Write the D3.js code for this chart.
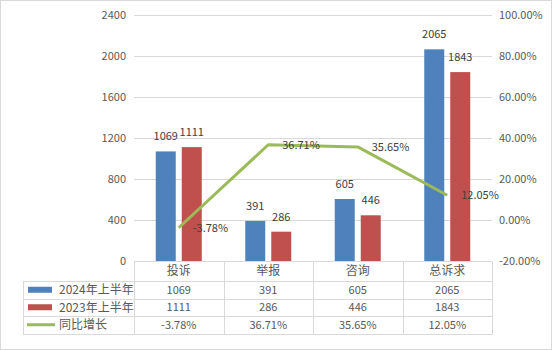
<!DOCTYPE html>
<html>
<head>
<meta charset="utf-8">
<script src="https://cdn.jsdelivr.net/npm/d3@7/dist/d3.min.js"></script>
<style>
  html, body { margin: 0; padding: 0; background: #fff; }
  svg { display: block; font-family: "Noto Sans CJK SC", "Noto Sans", sans-serif; }
</style>
</head>
<body>
<svg id="chart" width="552" height="350"></svg>
<script>
// Complaint statistics, first half of 2024 vs first half of 2023
const categories = ["投诉", "举报", "咨询", "总诉求"];
const seriesNames = ["2024年上半年", "2023年上半年", "同比增长"];
const values2024 = [1069, 391, 605, 2065];
const values2023 = [1111, 286, 446, 1843];
const growthPct = [-3.78, 36.71, 35.65, 12.05];
const growthLabels = ["-3.78%", "36.71%", "35.65%", "12.05%"];
const leftTicks = [0, 400, 800, 1200, 1600, 2000, 2400];
const rightTicks = [-20, 0, 20, 40, 60, 80, 100];

const colors = { blue: "#4F81BD", red: "#C0504D", green: "#9BBB59" };
const grid = "#D9D9D9";
const axisText = "#595959";
const labelText = "#404040";

const svg = d3.select("#chart");

// outer frame
svg.append("rect")
  .attr("x", 0.5).attr("y", 0.5).attr("width", 551).attr("height", 349)
  .attr("fill", "#fff").attr("stroke", grid);

const plot = { left: 134, right: 492, top: 15, bottom: 261 };

const x = d3.scaleBand().domain(categories).range([plot.left, plot.right]).padding(0);
const yL = d3.scaleLinear().domain([0, 2400]).range([plot.bottom, plot.top]);
const yR = d3.scaleLinear().domain([-20, 100]).range([plot.bottom, plot.top]);

// two bars of width 20 with a 6px gap, centred in each category
const barW = 20, barGap = 6;
const step = barW + barGap;
const pIn = barGap / step;
const pOut = (x.bandwidth() / step - 2 + pIn) / 2;
const xs = d3.scaleBand().domain(["a", "b"]).range([0, x.bandwidth()])
  .paddingInner(pIn).paddingOuter(pOut);

// horizontal gridlines
svg.append("g").selectAll("line").data(leftTicks.filter(d => d > 0)).join("line")
  .attr("x1", plot.left).attr("x2", plot.right)
  .attr("y1", d => Math.round(yL(d)) + 0.5).attr("y2", d => Math.round(yL(d)) + 0.5)
  .attr("stroke", grid).attr("stroke-width", 1);

// left axis labels
const axL = svg.append("g").attr("transform", `translate(${plot.left},0)`)
  .call(d3.axisLeft(yL).tickValues(leftTicks).tickSize(0).tickPadding(8).tickFormat(d3.format("d")));
axL.select(".domain").remove();
axL.selectAll("text").attr("fill", axisText).style("font-size", "11px")
  .style("font-family", "\"Noto Sans CJK SC\", sans-serif");

// right axis labels
const axR = svg.append("g").attr("transform", `translate(${plot.right},0)`)
  .call(d3.axisRight(yR).tickValues(rightTicks).tickSize(0).tickPadding(7).tickFormat(d => d.toFixed(2) + "%"));
axR.select(".domain").remove();
axR.selectAll("text").attr("fill", axisText).style("font-size", "11px")
  .style("font-family", "\"Noto Sans CJK SC\", sans-serif");

// bars
const barData = categories.map((c, i) => [
  { c, key: "a", v: values2024[i], color: colors.blue },
  { c, key: "b", v: values2023[i], color: colors.red }
]).flat();

svg.append("g").selectAll("rect").data(barData).join("rect")
  .attr("x", d => x(d.c) + xs(d.key))
  .attr("width", xs.bandwidth())
  .attr("y", d => yL(d.v))
  .attr("height", d => yL(0) - yL(d.v))
  .attr("fill", d => d.color);

svg.append("g").selectAll("text").data(barData).join("text")
  .attr("x", d => x(d.c) + xs(d.key) + xs.bandwidth() / 2)
  .attr("y", d => yL(d.v) - 11)
  .attr("text-anchor", "middle")
  .attr("fill", labelText)
  .style("font-size", "11px")
  .text(d => d.v);

// growth line
const linePts = categories.map((c, i) => ({ c, v: growthPct[i], label: growthLabels[i] }));
const line = d3.line().x(d => x(d.c) + x.bandwidth() / 2).y(d => yR(d.v));
svg.append("path").datum(linePts)
  .attr("d", line)
  .attr("fill", "none")
  .attr("stroke", colors.green)
  .attr("stroke-width", 3)
  .attr("stroke-linejoin", "round");

svg.append("g").selectAll("text").data(linePts).join("text")
  .attr("x", d => x(d.c) + x.bandwidth() / 2 + 14)
  .attr("y", d => yR(d.v))
  .attr("dy", "0.35em")
  .attr("fill", labelText)
  .style("font-size", "11px")
  .text(d => d.label);

// data table below the plot
const tbl = { left: 23, headTop: 261, rows: [281, 298.5, 316, 333.5] };
const tg = svg.append("g").attr("stroke", grid).attr("stroke-width", 1);
const px = v => Math.round(v) + 0.5;

// horizontal rules
tg.append("line").attr("x1", plot.left).attr("x2", plot.right)
  .attr("y1", px(tbl.headTop)).attr("y2", px(tbl.headTop));
tbl.rows.forEach(r => {
  tg.append("line").attr("x1", tbl.left).attr("x2", plot.right)
    .attr("y1", px(r)).attr("y2", px(r));
});
// vertical rules
const colEdges = categories.map(c => x(c)).concat([plot.right]);
colEdges.forEach(cx => {
  tg.append("line").attr("x1", px(cx)).attr("x2", px(cx))
    .attr("y1", px(tbl.headTop)).attr("y2", px(tbl.rows[3]));
});
tg.append("line").attr("x1", px(tbl.left)).attr("x2", px(tbl.left))
  .attr("y1", px(tbl.rows[0])).attr("y2", px(tbl.rows[3]));

// header row
svg.append("g").selectAll("text").data(categories).join("text")
  .attr("x", d => x(d) + x.bandwidth() / 2)
  .attr("y", (tbl.headTop + tbl.rows[0]) / 2)
  .attr("dy", "0.36em")
  .attr("text-anchor", "middle")
  .attr("fill", axisText)
  .style("font-size", "12px")
  .text(d => d);

// body rows
const rowValues = [values2024.map(String), values2023.map(String), growthLabels];
rowValues.forEach((vals, r) => {
  const cy = (tbl.rows[r] + tbl.rows[r + 1]) / 2;
  svg.append("g").selectAll("text").data(vals).join("text")
    .attr("x", (d, i) => x(categories[i]) + x.bandwidth() / 2)
    .attr("y", cy)
    .attr("dy", "0.36em")
    .attr("text-anchor", "middle")
    .attr("fill", axisText)
    .style("font-size", "11px")
    .text(d => d);
});

// legend keys in the first column
const keyColors = [colors.blue, colors.red, colors.green];
seriesNames.forEach((name, r) => {
  const cy = (tbl.rows[r] + tbl.rows[r + 1]) / 2;
  if (r < 2) {
    svg.append("rect").attr("x", 28).attr("y", cy - 3).attr("width", 24).attr("height", 6)
      .attr("fill", keyColors[r]);
  } else {
    svg.append("line").attr("x1", 27).attr("x2", 55).attr("y1", cy).attr("y2", cy)
      .attr("stroke", keyColors[r]).attr("stroke-width", 3);
  }
  svg.append("text").attr("x", 59).attr("y", cy).attr("dy", "0.36em")
    .attr("fill", axisText).style("font-size", "12px").text(name);
});
</script>
</body>
</html>
